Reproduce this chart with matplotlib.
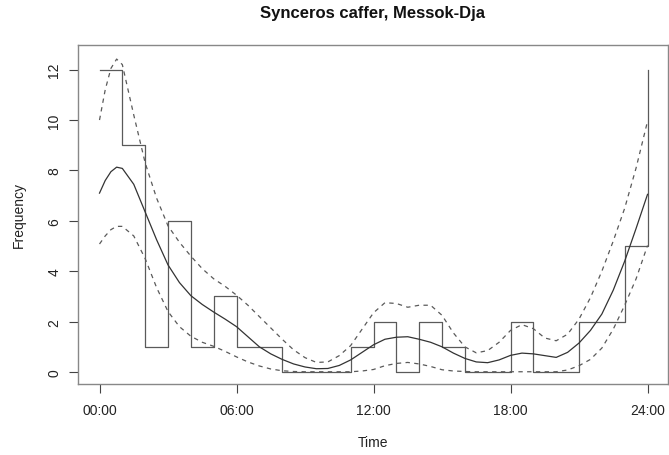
import matplotlib
matplotlib.use("Agg")
import matplotlib.pyplot as plt

plt.rcParams['font.family'] = ['Liberation Sans', 'DejaVu Sans']

# ---- data ----
hour_edges = [0, 1, 2, 3, 4, 5, 6, 7, 8, 9, 10, 11, 12,
              13, 14, 15, 16, 17, 18, 19, 20, 21, 22, 23, 24]
counts = [12, 9, 1, 6, 1, 3, 1, 1, 0, 0, 0, 1,
          2, 0, 2, 1, 0, 0, 2, 0, 0, 2, 2, 5]

curve_hours = [0, 0.25, 0.5, 0.75, 1, 1.5, 2, 2.5, 3, 3.5, 4, 4.5, 5, 5.5, 6, 6.5, 7, 7.5,
               8, 8.5, 9, 9.5, 10, 10.5, 11, 11.5, 12, 12.5, 13, 13.5, 14, 14.5,
               15, 15.5, 16, 16.5, 17, 17.5, 18, 18.5, 19, 19.5, 20, 20.5, 21,
               21.5, 22, 22.5, 23, 23.5, 24]
density = [7.10, 7.60, 7.95, 8.13, 8.08, 7.45, 6.35, 5.25, 4.25, 3.55, 3.03, 2.68, 2.38,
           2.10, 1.80, 1.40, 1.00, 0.72, 0.50, 0.32, 0.20, 0.13, 0.14, 0.26, 0.48,
           0.78, 1.08, 1.30, 1.38, 1.40, 1.30, 1.18, 1.00, 0.75, 0.54, 0.40, 0.37,
           0.48, 0.66, 0.75, 0.72, 0.65, 0.58, 0.78, 1.15, 1.65, 2.30, 3.25, 4.40,
           5.70, 7.05]
upper = [10.0, 11.2, 12.05, 12.42, 12.2, 10.2, 8.3, 6.9, 5.8, 5.15, 4.6, 4.1, 3.7, 3.4,
         3.05, 2.65, 2.2, 1.75, 1.3, 0.88, 0.57, 0.38, 0.40, 0.65, 1.05, 1.70, 2.35,
         2.75, 2.72, 2.57, 2.65, 2.65, 2.25, 1.55, 1.0, 0.76, 0.85, 1.18, 1.65, 1.88,
         1.72, 1.35, 1.24, 1.5, 2.1, 2.95, 4.0, 5.2, 6.5, 8.1, 9.95]
lower = [5.08, 5.4, 5.65, 5.78, 5.78, 5.4, 4.5, 3.35, 2.4, 1.8, 1.42, 1.18, 1.02, 0.82,
         0.6, 0.4, 0.24, 0.12, 0.05, 0.02, 0.01, 0.01, 0.01, 0.01, 0.01, 0.04, 0.1,
         0.25, 0.34, 0.38, 0.32, 0.22, 0.09, 0.04, 0.02, 0.01, 0.01, 0.01, 0.01,
         0.01, 0.01, 0.01, 0.01, 0.08, 0.25, 0.5, 0.95, 1.7, 2.65, 3.7, 5.02]

xticks = [0, 6, 12, 18, 24]
xtick_labels = ["00:00", "06:00", "12:00", "18:00", "24:00"]
yticks = [0, 2, 4, 6, 8, 10, 12]

title = "Synceros caffer, Messok-Dja"

# ---- figure ----
W, H = 669, 456
fig = plt.figure(figsize=(W / 100, H / 100), dpi=100)
left_px, right_px, top_px, bottom_px = 77.7, 668.3, 45.7, 385.0
ax = fig.add_axes([left_px / W, 1 - bottom_px / H,
                   (right_px - left_px) / W, (bottom_px - top_px) / H])

ax.step(hour_edges, counts + [counts[0]], where='post', color='#5a5a5a', lw=0.9)
ax.plot(curve_hours, density, color='#333333', lw=0.9)
ax.plot(curve_hours, upper, color='#5a5a5a', lw=0.9, dashes=(3.5, 3.5))
ax.plot(curve_hours, lower, color='#5a5a5a', lw=0.9, dashes=(3.5, 3.5))

ax.set_xlim(-0.955, 24.91)
ax.set_ylim(-0.476, 12.99)

ax.set_xticks(xticks)
ax.set_xticklabels(xtick_labels)
ax.set_yticks(yticks)
ax.set_yticklabels([str(v) for v in yticks], rotation=90, va='center')

ax.tick_params(axis='both', direction='out', length=6.7, width=0.8,
               color='#444444', labelsize=10, labelcolor='#222222')
ax.tick_params(axis='x', pad=7)
ax.tick_params(axis='y', pad=5)

for s in ax.spines.values():
    s.set_color('#888888')
    s.set_linewidth(1.0)

ax.set_xlabel("Time", fontsize=10, color='#222222', va='center')
ax.xaxis.set_label_coords(0.5, (bottom_px - 443) / (bottom_px - top_px))
ax.set_ylabel("Frequency", fontsize=10, color='#222222', va='center')
ax.yaxis.set_label_coords((19 - left_px) / (right_px - left_px), 0.5)

ax.set_title(title, fontsize=12, fontweight='bold', color='#111111', pad=20)

fig.savefig("out.png", dpi=100)
